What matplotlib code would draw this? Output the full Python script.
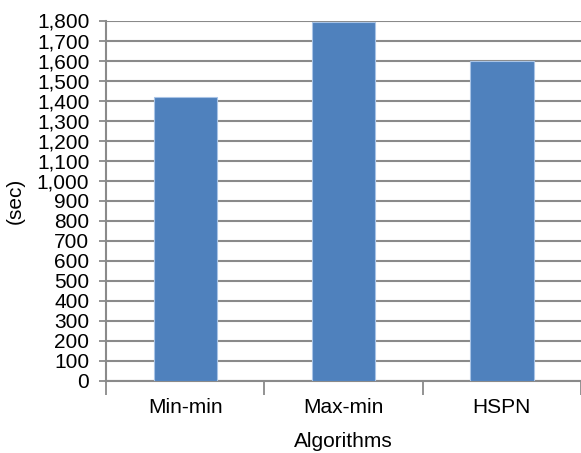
import numpy as np
import matplotlib.pyplot as plt

algorithms = ["Min-min", "Max-min", "HSPN"]
times = [1420, 1792, 1597]   # sec
yticks = np.arange(0, 1801, 100)

plt.rcParams['font.family'] = ['Liberation Sans', 'DejaVu Sans']
grey = "#8a8a8a"
fs = 15

fig = plt.figure(figsize=(5.81, 4.53), dpi=100)
ax = fig.add_axes([106/581, 72/453, 475/581, 360.5/453])

x = np.arange(len(algorithms))
ax.bar(x, times, width=0.4, color="#4f81bd", edgecolor="#a9c4e6",
       linewidth=0.8, zorder=3)

ax.set_xlim(-0.5, len(algorithms) - 0.5)
ax.set_ylim(0, 1800)
ax.set_yticks(yticks)
ax.set_yticklabels([f"{v:,}" for v in yticks])
ax.set_xticks(x)
ax.set_xticklabels(algorithms)
ax.set_xticks(np.arange(-0.5, len(algorithms)), minor=True)

ax.grid(axis="y", color=grey, linewidth=1.5, zorder=0)
ax.tick_params(axis="y", which="major", length=5, width=1.3, color=grey,
               labelsize=fs, pad=7)
ax.tick_params(axis="x", which="major", length=0, labelsize=fs, pad=12)
ax.tick_params(axis="x", which="minor", length=10, width=1.3, color=grey)

for side in ["top", "right"]:
    ax.spines[side].set_visible(False)
for side in ["left", "bottom"]:
    ax.spines[side].set_color(grey)
    ax.spines[side].set_linewidth(1.5)

ax.set_xlabel("Algorithms", fontsize=fs, labelpad=11)
ax.set_ylabel("(sec)", fontsize=fs, labelpad=9)

fig.savefig("out.png", dpi=100)
